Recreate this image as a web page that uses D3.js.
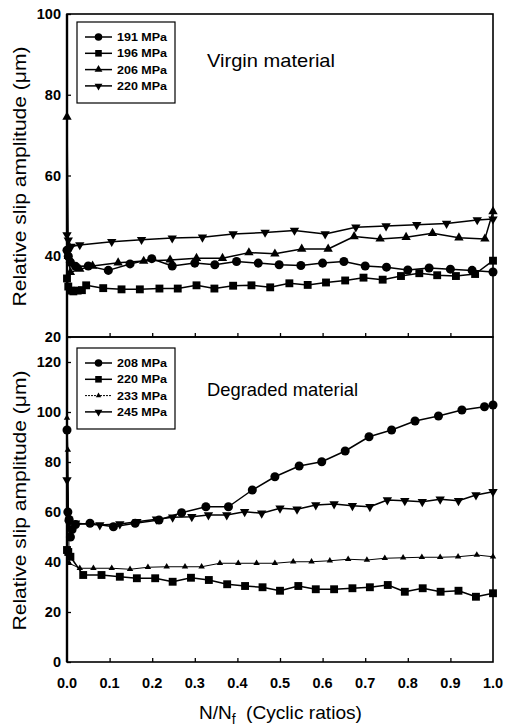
<!DOCTYPE html>
<html>
<head>
<meta charset="utf-8">
<script src="https://cdn.jsdelivr.net/npm/d3@7"></script>
<style>
	body { margin: 0; background: #fff; }
	svg { display: block; }
	text { font-family: "Liberation Sans", Arial, sans-serif; fill: #000; }
</style>
</head>
<body>
<svg width="505" height="726"></svg>
<script>
// top panel: virgin material
const topX191 = [0, 0.003, 0.008, 0.02, 0.05, 0.097, 0.148, 0.199, 0.247, 0.30, 0.347, 0.398, 0.449, 0.498, 0.549, 0.60, 0.65, 0.70, 0.75, 0.80, 0.85, 0.90, 0.951, 1.0];
const topY191 = [41.5, 40, 38.5, 37.5, 37.6, 36.5, 38.1, 39.4, 37.6, 38.3, 37.9, 38.7, 38.3, 37.9, 37.7, 38.3, 38.7, 37.6, 37.3, 36.6, 37.1, 36.8, 36.5, 36.1];
const topX196 = [0, 0.003, 0.008, 0.015, 0.025, 0.035, 0.045, 0.085, 0.128, 0.171, 0.217, 0.26, 0.304, 0.346, 0.39, 0.433, 0.477, 0.522, 0.565, 0.608, 0.653, 0.696, 0.741, 0.784, 0.827, 0.869, 0.913, 0.958, 1.0];
const topY196 = [34.5, 32.5, 31.5, 31.3, 31.5, 31.6, 32.8, 32.1, 31.8, 31.8, 32.0, 32.0, 32.8, 32.0, 32.7, 32.8, 32.3, 33.3, 32.9, 33.5, 34.0, 34.7, 34.2, 35.1, 35.8, 35.3, 35.1, 35.6, 38.9];
const topX206 = [0, 0.003, 0.008, 0.03, 0.06, 0.12, 0.18, 0.242, 0.304, 0.365, 0.427, 0.488, 0.551, 0.613, 0.674, 0.735, 0.796, 0.858, 0.92, 0.981, 1.0];
const topY206 = [74.5, 40, 36, 36.8, 37.6, 38.4, 38.8, 39.1, 39.5, 39.5, 40.9, 40.6, 41.8, 41.8, 44.9, 44.3, 44.7, 45.7, 44.6, 44.3, 51.1];
const topX220 = [0, 0.003, 0.01, 0.03, 0.105, 0.175, 0.247, 0.318, 0.39, 0.465, 0.534, 0.606, 0.678, 0.749, 0.821, 0.891, 0.963, 1.0];
const topY220 = [45.3, 44, 42.4, 42.8, 43.6, 44.1, 44.5, 44.7, 45.5, 45.9, 46.4, 45.5, 47.2, 47.5, 47.8, 48.1, 49.0, 49.2];

// bottom panel: degraded material
const botX208 = [0, 0.002, 0.005, 0.008, 0.012, 0.02, 0.054, 0.109, 0.16, 0.216, 0.269, 0.326, 0.379, 0.435, 0.488, 0.545, 0.598, 0.653, 0.709, 0.762, 0.817, 0.872, 0.927, 0.98, 1.0];
const botY208 = [92.8, 60, 57, 50, 53, 55, 55.5, 54.1, 55.5, 56.8, 59.7, 62.1, 62.1, 68.8, 74.1, 78.4, 80.1, 84.4, 90.1, 92.8, 96.4, 98.4, 100.8, 102.1, 102.8];
const botX220 = [0, 0.003, 0.008, 0.038, 0.081, 0.124, 0.164, 0.207, 0.248, 0.291, 0.333, 0.376, 0.418, 0.459, 0.50, 0.543, 0.584, 0.627, 0.67, 0.711, 0.753, 0.793, 0.835, 0.877, 0.919, 0.96, 1.0];
const botY220 = [44.8, 44, 42.1, 34.8, 34.8, 34.1, 33.5, 33.5, 32.1, 33.7, 32.8, 31.1, 30.4, 29.9, 28.5, 30.4, 29.1, 29.1, 29.5, 29.9, 30.8, 28.1, 29.5, 28.1, 28.5, 26.1, 27.5];
const botX233 = [0, 0.002, 0.005, 0.03, 0.062, 0.105, 0.148, 0.19, 0.234, 0.277, 0.316, 0.359, 0.402, 0.445, 0.488, 0.531, 0.574, 0.617, 0.66, 0.704, 0.746, 0.789, 0.833, 0.876, 0.918, 0.962, 1.0];
const botY233 = [97.6, 84.8, 39.5, 37.5, 37.5, 37.5, 37.1, 37.9, 38.1, 38.1, 38.1, 39.5, 39.5, 39.5, 39.5, 40.1, 40.1, 40.5, 41.1, 40.8, 41.5, 41.7, 41.9, 41.9, 42.1, 42.8, 42.1];
const botX245 = [0, 0.004, 0.02, 0.077, 0.124, 0.164, 0.21, 0.248, 0.293, 0.332, 0.375, 0.417, 0.457, 0.50, 0.54, 0.584, 0.627, 0.67, 0.711, 0.752, 0.793, 0.834, 0.876, 0.919, 0.96, 1.0];
const botY245 = [72.8, 55.5, 55.5, 54.8, 55.2, 56.1, 57.1, 57.9, 58.1, 58.8, 58.8, 60.1, 59.5, 61.5, 61.1, 62.8, 63.2, 62.5, 62.1, 64.8, 64.5, 64.1, 65.1, 64.5, 66.8, 68.1];

const topLabels = ["191 MPa", "196 MPa", "206 MPa", "220 MPa"];
const botLabels = ["208 MPa", "220 MPa", "233 MPa", "245 MPa"];
const xTicks = [0, 0.1, 0.2, 0.3, 0.4, 0.5, 0.6, 0.7, 0.8, 0.9, 1.0];
const topYTicks = [20, 40, 60, 80, 100];
const botYTicks = [0, 20, 40, 60, 80, 100, 120];

var svg = d3.select("svg");

var x = d3.scaleLinear().domain([0, 1]).range([67, 493]);
var yTop = d3.scaleLinear().domain([20, 100]).range([337, 14]);
var yBot = d3.scaleLinear().domain([0, 130]).range([662, 337]);

function zip(xs, ys) {
	return xs.map(function(v, i) { return [v, ys[i]]; });
}

// marker shapes
var markers = {
	circle: { type: d3.symbolCircle, size: 64, rot: 0 },
	square: { type: d3.symbolSquare, size: 62, rot: 0 },
	up: { type: d3.symbolTriangle, size: 38, rot: 0 },
	down: { type: d3.symbolTriangle, size: 38, rot: 180 },
	upSmall: { type: d3.symbolTriangle, size: 18, rot: 0 }
};

function drawSeries(g, y, pts, mk, width) {
	var line = d3.line().x(function(d) { return x(d[0]); }).y(function(d) { return y(d[1]); });
	g.append("path")
		.datum(pts)
		.attr("d", line)
		.attr("fill", "none")
		.attr("stroke", "#000")
		.attr("stroke-width", width)
		.attr("stroke-linejoin", "round");
	var m = markers[mk];
	g.selectAll(null)
		.data(pts)
		.enter().append("path")
		.attr("d", d3.symbol().type(m.type).size(m.size))
		.attr("transform", function(d) { return "translate(" + x(d[0]) + "," + y(d[1]) + ") rotate(" + m.rot + ")"; })
		.attr("fill", "#000");
}

function drawPanel(y, yTicks, series, labels, legY, title, titleLen) {
	var g = svg.append("g");
	series.forEach(function(s) {
		drawSeries(g, y, s.pts, s.mk, s.w);
	});

	var r0 = y.range()[0], r1 = y.range()[1];

	// frame
	g.append("rect")
		.attr("x", x(0)).attr("y", r1)
		.attr("width", x(1) - x(0)).attr("height", r0 - r1)
		.attr("fill", "none").attr("stroke", "#000").attr("stroke-width", 1.6);
	g.append("line")
		.attr("x1", x(0)).attr("x2", x(0)).attr("y1", r1).attr("y2", r0)
		.attr("stroke", "#000").attr("stroke-width", 2.4);

	// ticks pointing inward
	var ya = g.append("g").attr("transform", "translate(" + x(0) + ",0)")
		.call(d3.axisRight(y).tickValues(yTicks).tickSize(4).tickFormat(""));
	ya.select(".domain").remove();
	ya.selectAll("line").attr("stroke-width", 1.3);
	g.selectAll(null)
		.data(yTicks)
		.enter().append("text")
		.attr("x", 61)
		.attr("y", function(d) { return y(d); })
		.attr("dy", "0.36em")
		.attr("text-anchor", "end")
		.style("font-size", "14.5px")
		.style("font-weight", "bold")
		.text(function(d) { return d; });

	var xa = g.append("g").attr("transform", "translate(0," + r0 + ")")
		.call(d3.axisTop(x).tickValues(xTicks.slice(1, -1)).tickSize(4).tickFormat(""));
	xa.select(".domain").remove();
	xa.selectAll("line").attr("stroke-width", 1.3);

	// legend
	var lg = g.append("g").attr("transform", "translate(77," + legY + ")");
	lg.append("rect")
		.attr("width", 98).attr("height", 81)
		.attr("fill", "#fff").attr("stroke", "#000").attr("stroke-width", 1.2);
	series.forEach(function(s, i) {
		var row = lg.append("g").attr("transform", "translate(0," + (15 + i * 16.3) + ")");
		row.append("line")
			.attr("x1", 8).attr("x2", 35)
			.attr("stroke", "#000").attr("stroke-width", s.w)
			.attr("stroke-dasharray", s.dash || null);
		var m = markers[s.mk];
		row.append("path")
			.attr("d", d3.symbol().type(m.type).size(m.size * 0.7))
			.attr("transform", "translate(21.5,0) rotate(" + m.rot + ")");
		row.append("text")
			.attr("x", 40).attr("dy", "0.36em")
			.style("font-size", "11.5px")
			.style("font-weight", "bold")
			.attr("textLength", 50).attr("lengthAdjust", "spacingAndGlyphs")
			.text(labels[i]);
	});

	g.append("text")
		.attr("x", 207).attr("y", title.y)
		.style("font-size", "18.5px")
		.attr("textLength", titleLen).attr("lengthAdjust", "spacingAndGlyphs")
		.text(title.text);

	// y label
	g.append("text")
		.attr("transform", "translate(26," + ((r0 + r1) / 2 + 1) + ") rotate(-90)")
		.attr("text-anchor", "middle")
		.style("font-size", "18px")
		.attr("textLength", 260).attr("lengthAdjust", "spacingAndGlyphs")
		.text("Relative slip amplitude (\u03bcm)");
}

drawPanel(yTop, topYTicks, [
	{ pts: zip(topX191, topY191), mk: "circle", w: 1.5 },
	{ pts: zip(topX196, topY196), mk: "square", w: 1.5 },
	{ pts: zip(topX206, topY206), mk: "up", w: 1.5 },
	{ pts: zip(topX220, topY220), mk: "down", w: 1.5 }
], topLabels, 22, { text: "Virgin material", y: 67 }, 128);

drawPanel(yBot, botYTicks, [
	{ pts: zip(botX208, botY208), mk: "circle", w: 1.5 },
	{ pts: zip(botX220, botY220), mk: "square", w: 1.5 },
	{ pts: zip(botX233, botY233), mk: "upSmall", w: 1, dash: "2,1" },
	{ pts: zip(botX245, botY245), mk: "down", w: 1.5 }
], botLabels, 348, { text: "Degraded material", y: 396 }, 151);

// x tick labels
svg.selectAll(null)
	.data(xTicks)
	.enter().append("text")
	.attr("x", function(d) { return x(d); })
	.attr("y", 688)
	.attr("text-anchor", "middle")
	.style("font-size", "14.5px")
	.style("font-weight", "bold")
	.text(function(d) { return d.toFixed(1); });

// x label
var xl = svg.append("text")
	.attr("x", 199).attr("y", 719)
	.style("font-size", "19px");
xl.append("tspan").text("N/N");
xl.append("tspan").attr("dy", 5).style("font-size", "14px").text("f");
svg.append("text")
	.attr("x", 246).attr("y", 719)
	.style("font-size", "19px")
	.attr("textLength", 116).attr("lengthAdjust", "spacingAndGlyphs")
	.text("(Cyclic ratios)");
</script>
</body>
</html>
